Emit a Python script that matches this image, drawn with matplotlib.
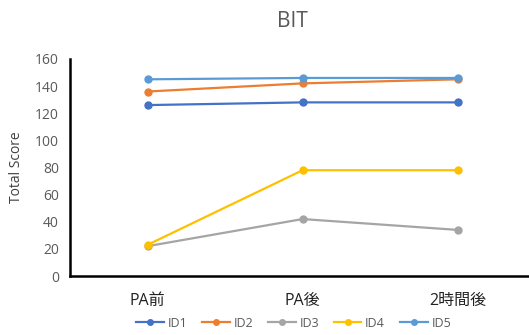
import matplotlib
matplotlib.use("Agg")
import matplotlib.pyplot as plt

# BIT total scores per subject over the three time points
time_points = ["PA前", "PA後", "2時間後"]
series_names = ["ID1", "ID2", "ID3", "ID4", "ID5"]
id1 = [126, 128, 128]
id2 = [136, 142, 145]
id3 = [22, 42, 34]
id4 = [23, 78, 78]
id5 = [145, 146, 146]
colors = ["#4472C4", "#ED7D31", "#A5A5A5", "#FFC000", "#5B9BD5"]

plt.rcParams['font.family'] = ['Open Sans', 'Noto Sans CJK JP', 'DejaVu Sans']

fig = plt.figure(figsize=(5.29, 3.35), dpi=100)
ax = fig.add_axes([0.1323, 0.176, 0.8677, 0.648])

x = list(range(len(time_points)))
for name, vals, c in zip(series_names, [id1, id2, id3, id4, id5], colors):
    ax.plot(x, vals, color=c, lw=1.6, marker="o", markersize=5, label=name)

ax.set_ylim(0, 160)
ax.set_yticks(range(0, 161, 20))
ax.set_xlim(-0.5, 2.46)
ax.set_xticks(x)
ax.set_xticklabels(time_points, fontsize=11.5, color="#222222")
ax.tick_params(axis="y", length=0, labelsize=10, labelcolor="#595959", pad=8)
ax.tick_params(axis="x", length=0, pad=12)

for side in ["top", "right"]:
    ax.spines[side].set_visible(False)
for side in ["left", "bottom"]:
    ax.spines[side].set_linewidth(1.8)
    ax.spines[side].set_color("black")

ax.set_ylabel("Total Score", fontsize=10, color="#404040", labelpad=8)
fig.text(0.553, 0.935, "BIT", ha="center", va="center", fontsize=15, color="#595959")

fig.legend(loc="lower center", bbox_to_anchor=(0.555, -0.01), ncol=5, frameon=False,
           fontsize=9, handlelength=2.2, handletextpad=0.3, columnspacing=1.2,
           labelcolor="#595959", markerscale=0.8, borderpad=0.2)

fig.savefig("out.png", dpi=100)
